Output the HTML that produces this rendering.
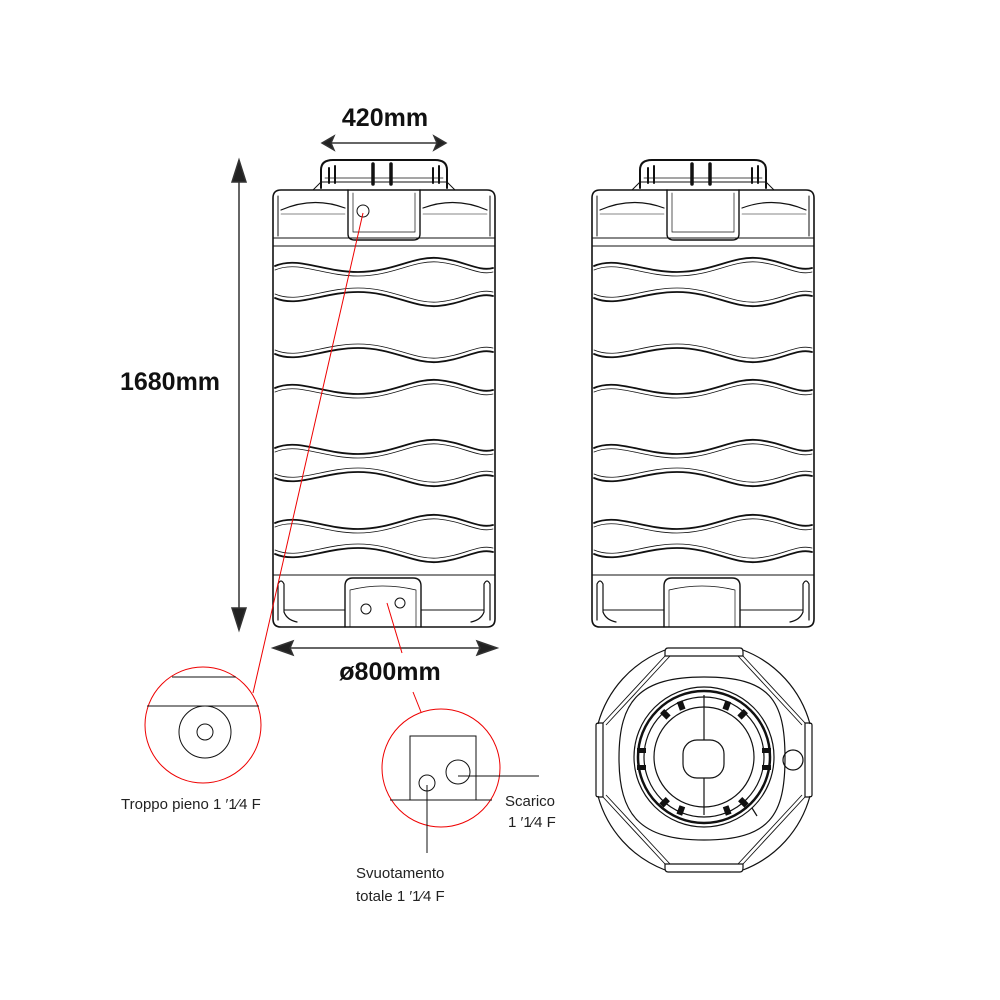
<!DOCTYPE html>
<html><head><meta charset="utf-8"><style>
html,body{margin:0;padding:0;background:#fff;}
svg{display:block;}
text{font-family:"Liberation Sans",Arial,sans-serif;}
</style></head><body>
<svg width="1000" height="1000" viewBox="0 0 1000 1000" xmlns="http://www.w3.org/2000/svg">
<defs>
  <path id="wv" d="M2 2 C25 -8 50 8 85 8 S140 -8 165 -6 S205 8 220 4" fill="none"/>
  <path id="wvb" d="M2 -2 C25 8 50 -8 85 -8 S140 8 165 6 S205 -8 220 -4" fill="none"/>
  <g id="rib">
    <use href="#wv" stroke-width="1.8"/>
    <use href="#wv" transform="translate(0,4)" stroke-width="0.8"/>
  </g>
  <g id="ribb">
    <use href="#wvb" stroke-width="1.8"/>
    <use href="#wvb" transform="translate(0,-4)" stroke-width="0.8"/>
  </g>
  <g id="tank" stroke="#111" fill="none" stroke-linecap="round">
    <!-- cap -->
    <path d="M48 188 L48 170 Q48 160 60 160 L162 160 Q174 160 174 170 L174 188" stroke-width="2"/>
    <path d="M40 190 L48 182 L174 182 L182 190" stroke-width="1"/>
    <line x1="52" y1="178" x2="170" y2="178" stroke-width="0.8"/>
    <path d="M56 183 L56 168 M62 183 L62 166 M160 183 L160 168 M166 183 L166 166" stroke-width="2"/>
    <path d="M100 184 L100 164 M118 184 L118 164" stroke-width="3.5"/>
    <!-- body -->
    <path d="M8 190 L214 190 Q222 190 222 198 L222 619 Q222 627 214 627 L8 627 Q0 627 0 619 L0 198 Q0 190 8 190 Z" stroke-width="1.6"/>
    <line x1="0" y1="238" x2="222" y2="238" stroke-width="1"/>
    <line x1="0" y1="246" x2="222" y2="246" stroke-width="1"/>
    <path d="M75 190 L75 234 Q75 240 82 240 L140 240 Q147 240 147 234 L147 190" stroke-width="1.4"/>
    <path d="M80 193 L80 232 L142 232 L142 193" stroke-width="0.7"/>
    <path d="M8 210 Q40 196 72 208 M150 208 Q182 196 214 210" stroke-width="1.2"/>
    <path d="M8 214 L72 214 M150 214 L214 214" stroke-width="0.6"/>
    <path d="M5 196 L5 236 M217 196 L217 236" stroke-width="1"/>
    <!-- ribs -->
    <use href="#rib" transform="translate(0,264)"/>
    <use href="#ribb" transform="translate(0,300)"/>
    <use href="#ribb" transform="translate(0,356)"/>
    <use href="#rib" transform="translate(0,386)"/>
    <use href="#rib" transform="translate(0,446)"/>
    <use href="#ribb" transform="translate(0,480)"/>
    <use href="#rib" transform="translate(0,521)"/>
    <use href="#ribb" transform="translate(0,556)"/>
    <!-- bottom -->
    <line x1="0" y1="575" x2="222" y2="575" stroke-width="1"/>
    <path d="M72 627 L72 586 Q72 578 80 578 L140 578 Q148 578 148 586 L148 627" stroke-width="1.4"/>
    <path d="M77 627 L77 590 Q110 582 143 590 L143 627" stroke-width="0.7"/>
    <path d="M5 620 L5 584 Q8 578 11 584 L11 612 Q14 620 24 622 M217 620 L217 584 Q214 578 211 584 L211 612 Q208 620 198 622" stroke-width="1.2"/>
    <path d="M11 610 L72 610 M148 610 L211 610" stroke-width="1"/>
  </g>
</defs>

<use href="#tank" transform="translate(273,0)"/>
<use href="#tank" transform="translate(592,0)"/>

<circle cx="363" cy="211" r="6" fill="#fff" stroke="#111" stroke-width="1"/>
<circle cx="366" cy="609" r="5" fill="#fff" stroke="#111" stroke-width="1"/>
<circle cx="400" cy="603" r="5" fill="#fff" stroke="#111" stroke-width="1"/>

<g stroke="#333" stroke-width="1.5">
  <line x1="324" y1="143" x2="444" y2="143"/>
  <path d="M322 143 L334 136 L331 143 L334 150 Z M446 143 L434 136 L437 143 L434 150 Z" fill="#222"/>
  <line x1="239" y1="175" x2="239" y2="615"/>
  <path d="M239 160 L232 182 L246 182 Z M239 630 L232 608 L246 608 Z" fill="#222"/>
  <line x1="285" y1="648" x2="485" y2="648"/>
  <path d="M273 648 L293 641 L290 648 L293 655 Z M497 648 L477 641 L480 648 L477 655 Z" fill="#222"/>
</g>
<text x="385" y="126" font-size="25" font-weight="bold" text-anchor="middle" fill="#111">420mm</text>
<text x="170" y="390" font-size="25" font-weight="bold" text-anchor="middle" fill="#111">1680mm</text>
<text x="390" y="680" font-size="25" font-weight="bold" text-anchor="middle" fill="#111">ø800mm</text>

<g stroke="#e00" stroke-width="1" fill="none">
  <line x1="363" y1="213" x2="253" y2="693"/>
  <line x1="387" y1="603" x2="402" y2="653"/>
  <line x1="413" y1="692" x2="421" y2="712"/>
  <circle cx="203" cy="725" r="58"/>
  <circle cx="441" cy="768" r="59"/>
</g>
<g stroke="#111" stroke-width="1" fill="none">
  <line x1="172" y1="677" x2="236" y2="677"/>
  <line x1="147" y1="706" x2="259" y2="706"/>
  <circle cx="205" cy="732" r="26"/>
  <circle cx="205" cy="732" r="8"/>
  <path d="M410 800 L410 736 L476 736 L476 800"/>
  <line x1="390" y1="800" x2="492" y2="800"/>
  <circle cx="427" cy="783" r="8"/>
  <circle cx="458" cy="772" r="12"/>
  <line x1="458" y1="776" x2="539" y2="776"/>
  <line x1="427" y1="785" x2="427" y2="853"/>
</g>
<g font-size="15" fill="#222">
  <text x="121" y="809">Troppo pieno 1 ′1⁄4  F</text>
  <text x="505" y="806">Scarico</text>
  <text x="508" y="827">1 ′1⁄4  F</text>
  <text x="356" y="878">Svuotamento</text>
  <text x="356" y="901">totale 1 ′1⁄4  F</text>
</g>

<g stroke="#111" fill="none" stroke-width="1.2">
  <path d="M665 650 A110 110 0 0 0 598 724" />
  <path d="M743 650 A110 110 0 0 1 810 724" />
  <path d="M598 796 A110 110 0 0 0 665 870" />
  <path d="M810 796 A110 110 0 0 1 743 870" />
  <path d="M668 648 L740 648 Q743 648 743 652 L743 656 L665 656 L665 652 Q665 648 668 648 Z"/>
  <path d="M668 872 L740 872 Q743 872 743 868 L743 864 L665 864 L665 868 Q665 872 668 872 Z"/>
  <path d="M596 725 L596 795 Q596 797 599 797 L603 797 L603 723 L599 723 Q596 723 596 725 Z"/>
  <path d="M812 725 L812 795 Q812 797 809 797 L805 797 L805 723 L809 723 Q812 723 812 725 Z"/>
  <path d="M665 656 L603 723 M670 656 L606 725 M743 656 L805 723 M738 656 L802 725 M665 864 L603 797 M670 864 L606 795 M743 864 L805 797 M738 864 L802 795" stroke-width="0.9"/>
  <path d="M704 677 C770 677 785 700 785 758 C785 815 770 840 704 840 C640 840 619 815 619 758 C619 700 640 677 704 677 Z"/>
  <circle cx="704" cy="757" r="70"/>
  <circle cx="704" cy="757" r="66" stroke-width="2.5"/>
  <circle cx="704" cy="757" r="60"/>
  <circle cx="704" cy="757" r="50"/>
  <rect x="683" y="740" width="41" height="38" rx="14"/>
  <line x1="704" y1="695" x2="704" y2="740"/>
  <line x1="704" y1="778" x2="704" y2="815"/>
  <circle cx="793" cy="760" r="10"/>
  <line x1="752" y1="808" x2="757" y2="816"/>
</g>
<g fill="#111">
  <rect x="678" y="701" width="6" height="9" transform="rotate(-20 681 705)"/>
  <rect x="724" y="701" width="6" height="9" transform="rotate(20 727 705)"/>
  <rect x="662" y="710" width="6" height="9" transform="rotate(-45 665 714)"/>
  <rect x="740" y="710" width="6" height="9" transform="rotate(45 743 714)"/>
  <rect x="637" y="748" width="9" height="5"/>
  <rect x="637" y="765" width="9" height="5"/>
  <rect x="762" y="748" width="9" height="5"/>
  <rect x="762" y="765" width="9" height="5"/>
  <rect x="678" y="806" width="6" height="9" transform="rotate(20 681 810)"/>
  <rect x="724" y="806" width="6" height="9" transform="rotate(-20 727 810)"/>
  <rect x="662" y="798" width="6" height="9" transform="rotate(45 665 802)"/>
  <rect x="740" y="798" width="6" height="9" transform="rotate(-45 743 802)"/>
</g>
</svg>
</body></html>
